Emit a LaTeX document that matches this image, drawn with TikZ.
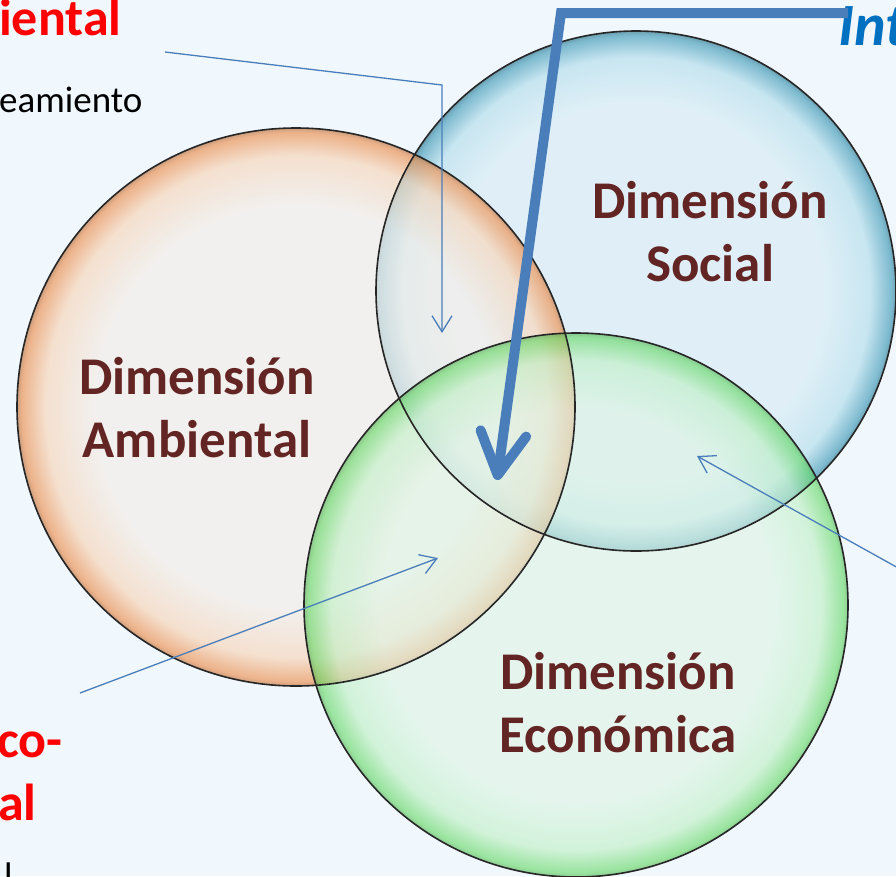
\documentclass[tikz,border=0pt]{standalone}
\usepackage{fontspec}
\setmainfont{Carlito}
\usetikzlibrary{arrows.meta}
\definecolor{bg}{RGB}{240,247,253}
\definecolor{dimtxt}{RGB}{99,37,35}
\definecolor{arrowblue}{RGB}{74,126,187}
\definecolor{redtxt}{RGB}{255,0,0}
\definecolor{inttxt}{RGB}{0,112,192}
\definecolor{oIn}{RGB}{243,238,233}
\definecolor{oMid}{RGB}{247,215,188}
\definecolor{oRim}{RGB}{236,150,90}
\definecolor{bIn}{RGB}{220,238,246}
\definecolor{bMid}{RGB}{190,226,238}
\definecolor{bRim}{RGB}{95,170,195}
\definecolor{gIn}{RGB}{222,245,228}
\definecolor{gMid}{RGB}{190,240,195}
\definecolor{gRim}{RGB}{95,215,95}
\pgfdeclareradialshading{bubO}{\pgfpoint{0bp}{0bp}}{color(0bp)=(oIn); color(18bp)=(oIn); color(22.5bp)=(oMid); color(24.6bp)=(oRim); color(25bp)=(oRim!80!black); color(50bp)=(oRim)}
\pgfdeclareradialshading{bubB}{\pgfpoint{0bp}{0bp}}{color(0bp)=(bIn); color(18bp)=(bIn); color(22.5bp)=(bMid); color(24.6bp)=(bRim); color(25bp)=(bRim!80!black); color(50bp)=(bRim)}
\pgfdeclareradialshading{bubG}{\pgfpoint{0bp}{0bp}}{color(0bp)=(gIn); color(18bp)=(gIn); color(22.5bp)=(gMid); color(24.6bp)=(gRim); color(25bp)=(gRim!80!black); color(50bp)=(gRim)}
\tikzset{
  dimlabel/.style={font=\fontsize{53}{63}\selectfont\bfseries, text=dimtxt, align=center, inner sep=0pt},
  redlabel/.style={font=\fontsize{52}{63}\selectfont\bfseries, text=redtxt, inner sep=0pt, anchor=base west},
  blacklabel/.style={font=\fontsize{37}{44}\selectfont, text=black, inner sep=0pt, anchor=base west},
  intlabel/.style={font=\fontsize{60}{70}\selectfont\bfseries\itshape, text=inttxt, inner sep=0pt, anchor=base west},
  thinarrow/.style={draw=arrowblue, line width=1.3pt, -{Straight Barb[length=16pt,width=20pt]}},
  thickarrow/.style={draw=arrowblue, line width=10pt, line join=miter, -{Straight Barb[length=42pt,width=46pt,round]}},
  rim/.style={draw=black!85, line width=1.6pt},
}
\begin{document}
\begin{tikzpicture}[x=1pt,y=-1pt]
\useasboundingbox (0,0) rectangle (896,876);
\clip (0,0) rectangle (896,876);
\fill[bg] (0,0) rectangle (896,876);
% circles
\shade[shading=bubB, opacity=0.8] (636,291) circle[radius=260];
\shade[shading=bubO, opacity=0.7] (296,407) circle[radius=279];
\shade[shading=bubG, opacity=0.6] (576,605) circle[radius=272];
\draw[rim] (636,291) circle[radius=260];
\draw[rim] (296,407) circle[radius=279];
\draw[rim] (576,605) circle[radius=272];
% labels
\node[dimlabel] (social) at (710,232) {Dimensión\\Social};
\node[dimlabel] (ambiental) at (197,408) {Dimensión\\Ambiental};
\node[dimlabel] (economica) at (618,703) {Dimensión\\Económica};
% edge texts
\node[redlabel] (t1) at (-1,35) {iental};
\node[blacklabel] (t2) at (-1,112) {eamiento};
\node[intlabel] (t3) at (838,45) {Int};
\node[redlabel] (t4) at (-3,757) {co-};
\node[redlabel] (t5) at (-2,820) {al};
\node[blacklabel] (t6) at (4,888) {l};
% arrow points
\coordinate (a1s) at (165,52);
\coordinate (a1c) at (442,85);
\coordinate (a1e) at (442,333);
\coordinate (a2s) at (80,693);
\coordinate (a2e) at (438,558);
\coordinate (a3s) at (900,569);
\coordinate (a3e) at (697,456);
\coordinate (a4s) at (848,13);
\coordinate (a4c) at (561,13);
\coordinate (a4e) at (497,480);
\draw[thinarrow] (a1s) -- (a1c) -- (a1e);
\draw[thinarrow] (a2s) -- (a2e);
\draw[thinarrow] (a3s) -- (a3e);
\draw[thickarrow] (a4s) -- (a4c) -- (a4e);
\end{tikzpicture}
\end{document}
